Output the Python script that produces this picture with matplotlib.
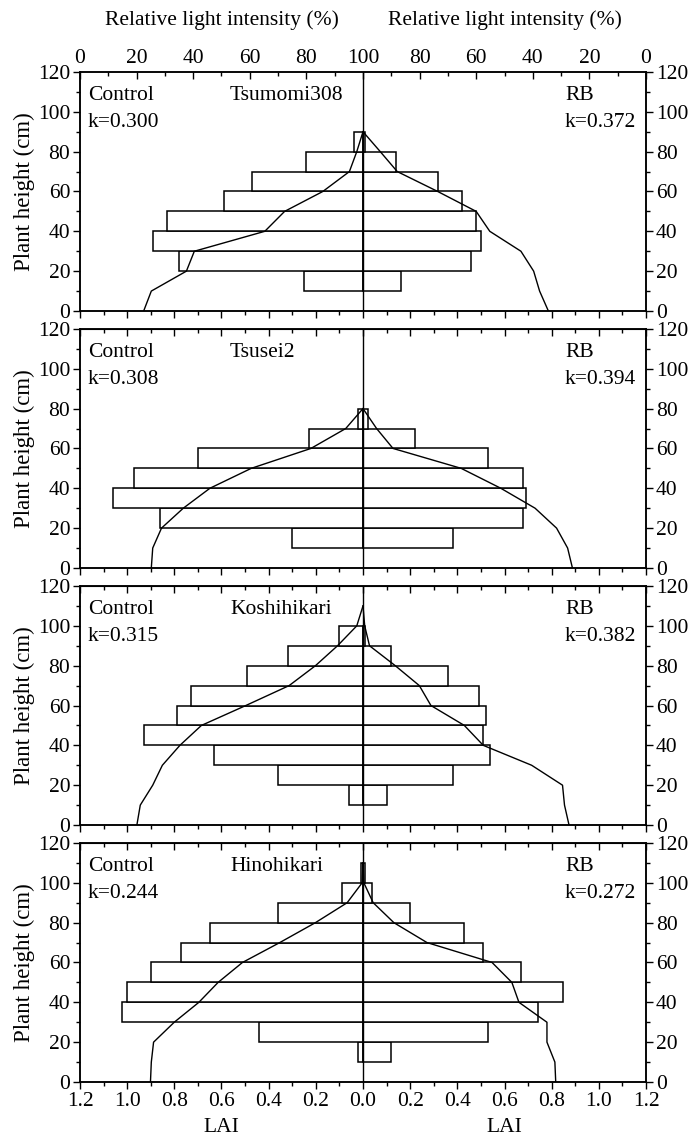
import numpy as np
import matplotlib
matplotlib.use("Agg")
import matplotlib.pyplot as plt
from matplotlib.ticker import MultipleLocator, FuncFormatter

plt.rcParams["font.family"] = ["Liberation Serif", "DejaVu Serif"]
plt.rcParams["font.size"] = 15.5

varieties = ["Tsumomi308", "Tsusei2", "Koshihikari", "Hinohikari"]
k_control = ["0.300", "0.308", "0.315", "0.244"]
k_rb = ["0.372", "0.394", "0.382", "0.272"]

# LAI per 10 cm layer, listed from the 10-20 cm layer upward
lai_control = [
    [0.25, 0.78, 0.89, 0.83, 0.59, 0.47, 0.24, 0.04],
    [0.30, 0.86, 1.06, 0.97, 0.70, 0.23, 0.02],
    [0.06, 0.36, 0.63, 0.93, 0.79, 0.73, 0.49, 0.32, 0.10],
    [0.02, 0.44, 1.02, 1.00, 0.90, 0.77, 0.65, 0.36, 0.09, 0.01],
]
lai_rb = [
    [0.16, 0.46, 0.50, 0.48, 0.42, 0.32, 0.14, 0.01],
    [0.38, 0.68, 0.69, 0.68, 0.53, 0.22, 0.02],
    [0.10, 0.38, 0.54, 0.51, 0.52, 0.49, 0.36, 0.12, 0.01],
    [0.12, 0.53, 0.74, 0.85, 0.67, 0.51, 0.43, 0.20, 0.04, 0.01],
]

# relative light intensity (%) from 0 cm upward every 10 cm
light_control = [
    [22.5, 25.2, 37.6, 40.4, 65.3, 72.3, 85.8, 95.2, 97.8, 100],
    [25.2, 25.7, 28.8, 36.5, 45.9, 60.5, 81.6, 93.9, 100],
    [20.1, 21.3, 25.7, 29.1, 35.3, 42.9, 58.6, 73.9, 83.2, 91.0, 97.8, 100],
    [24.9, 25.2, 26.0, 33.3, 42.0, 48.8, 57.4, 70.6, 83.2, 94.4, 99.7, 100],
]
light_rb = [
    [34.5, 37.6, 39.7, 44.2, 55.2, 60.0, 73.6, 87.9, 93.9, 100],
    [26.0, 27.7, 31.6, 39.2, 51.3, 65.3, 89.4, 95.2, 100],
    [27.2, 28.8, 29.5, 40.4, 57.5, 64.2, 76.0, 80.1, 88.6, 97.7, 99.4, 100],
    [31.9, 32.2, 35.0, 35.0, 44.9, 47.4, 54.4, 77.4, 89.1, 96.4, 99.7, 100],
]

fig = plt.figure(figsize=(6.89, 11.35), dpi=100)
bottoms = [0.7260, 0.4996, 0.2731, 0.0467]
ax_w, ax_h = 0.8215, 0.2106

for i, name in enumerate(varieties):
    ax = fig.add_axes([0.1161, bottoms[i], ax_w, ax_h])
    n = len(lai_control[i])
    layer_base = np.arange(1, n + 1) * 10

    ax.barh(layer_base, [-v for v in lai_control[i]], height=10, align="edge",
            facecolor="white", edgecolor="black", linewidth=1.1)
    ax.barh(layer_base, lai_rb[i], height=10, align="edge",
            facecolor="white", edgecolor="black", linewidth=1.1)
    ax.axvline(0, color="black", linewidth=1.0)

    ax.set_xlim(-1.2, 1.2)
    ax.set_ylim(0, 120)
    ax.yaxis.set_major_locator(MultipleLocator(20))
    ax.yaxis.set_minor_locator(MultipleLocator(10))
    ax.xaxis.set_major_locator(MultipleLocator(0.2))
    ax.xaxis.set_minor_locator(MultipleLocator(0.1))
    ax.xaxis.set_major_formatter(FuncFormatter(lambda x, p: f"{abs(x):.1f}"))
    ax.tick_params(axis="y", which="both", left=True, right=True,
                   labelleft=True, labelright=True, direction="out")
    ax.tick_params(axis="x", which="both", bottom=True, top=False,
                   direction="out", labelbottom=(i == 3))
    ax.tick_params(which="major", length=5, width=1.0, pad=2)
    ax.tick_params(which="minor", length=3, width=1.0)
    for sp in ax.spines.values():
        sp.set_linewidth(1.1)
    ax.set_ylabel("Plant height (cm)", fontsize=16.5)
    ax.yaxis.set_label_coords(-0.08, 0.5)

    # light curves on a twin axis: 0..100 on the left half, 100..0 on the right
    tw = ax.twiny()
    tw.set_xlim(0, 200)
    hts = np.arange(len(light_control[i])) * 10
    tw.plot(light_control[i], hts, color="black", linewidth=1.0)
    tw.plot([200 - v for v in light_rb[i]], hts, color="black", linewidth=1.0)
    if i == 0:
        tw.xaxis.set_major_locator(MultipleLocator(20))
        tw.xaxis.set_minor_locator(MultipleLocator(10))
        tw.xaxis.set_major_formatter(FuncFormatter(lambda t, p: f"{100 - abs(t - 100):.0f}"))
        tw.tick_params(axis="x", which="both", direction="in", top=True)
        tw.tick_params(which="major", length=5, width=1.0, pad=3)
        tw.tick_params(which="minor", length=3, width=1.0)
        tw.text(0.25, 1.215, "Relative light intensity (%)", transform=tw.transAxes,
                ha="center", va="center")
        tw.text(0.75, 1.215, "Relative light intensity (%)", transform=tw.transAxes,
                ha="center", va="center")
    else:
        tw.set_xticks([])
        sec = ax.secondary_xaxis("top")
        sec.xaxis.set_major_locator(MultipleLocator(0.2))
        sec.xaxis.set_minor_locator(MultipleLocator(0.1))
        sec.tick_params(axis="x", which="both", direction="in", labeltop=False)
        sec.tick_params(which="major", length=5, width=1.0)
        sec.tick_params(which="minor", length=3, width=1.0)
    for sp in tw.spines.values():
        sp.set_linewidth(1.1)

    ax.text(0.014, 0.900, "Control", transform=ax.transAxes, va="center")
    ax.text(0.014, 0.788, "k=" + k_control[i], transform=ax.transAxes, va="center")
    ax.text(0.265, 0.900, name, transform=ax.transAxes, va="center")
    ax.text(0.857, 0.900, "RB", transform=ax.transAxes, va="center")
    ax.text(0.857, 0.788, "k=" + k_rb[i], transform=ax.transAxes, va="center")

    if i == 3:
        ax.text(0.25, -0.19, "LAI", transform=ax.transAxes, ha="center", va="center")
        ax.text(0.75, -0.19, "LAI", transform=ax.transAxes, ha="center", va="center")

fig.savefig("out.png", dpi=100)
